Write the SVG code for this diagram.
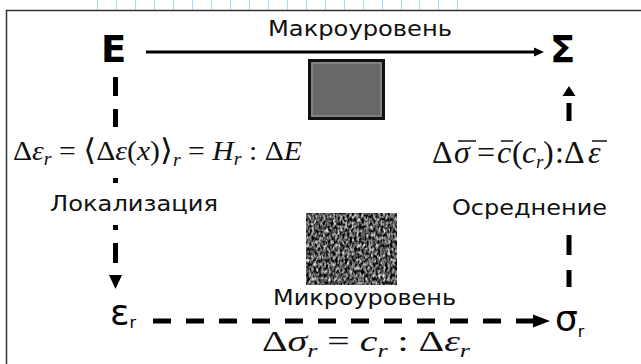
<svg xmlns="http://www.w3.org/2000/svg" width="641" height="364" viewBox="0 0 641 364">
<style>
.lbl{font-family:"DejaVu Sans","Liberation Sans",sans-serif;font-size:22px;fill:#111}
.node{font-family:"DejaVu Sans","Liberation Sans",sans-serif;fill:#000}
.math{font-family:"Liberation Serif","Times New Roman",serif;fill:#111}
.it{font-style:italic}
.dash{stroke:#000;stroke-width:5;fill:none}
.grid{stroke:#a9dcf2;stroke-width:1}
.bar{stroke:#111;stroke-width:1.5}
</style>
<defs>
<marker id="ah" viewBox="0 0 10 10" refX="0" refY="5" markerWidth="10" markerHeight="10" markerUnits="userSpaceOnUse" orient="auto">
<path d="M0,0.5 L10,5 L0,9.5 Z" fill="#000"/>
</marker>
<filter id="noise" x="0" y="0" width="100%" height="100%" color-interpolation-filters="sRGB">
<feTurbulence type="fractalNoise" baseFrequency="0.42 0.27" numOctaves="2" seed="11"/>
<feColorMatrix type="saturate" values="0"/>
<feComponentTransfer>
<feFuncR type="linear" slope="2.3" intercept="-0.8"/>
<feFuncG type="linear" slope="2.3" intercept="-0.8"/>
<feFuncB type="linear" slope="2.3" intercept="-0.8"/>
<feFuncA type="linear" slope="0" intercept="1"/>
</feComponentTransfer>
</filter>
</defs>
<rect width="641" height="364" fill="#fff"/>
<g id="grid">
<path class="grid" d="M97.5 0V10M116.5 0V10M135.5 0V10M154.5 0V10M173.5 0V10M192.5 0V10M211.5 0V10M230.5 0V10M249.5 0V10M268.5 0V10M287.5 0V10M306.5 0V10M325.5 0V10M344.5 0V10M363.5 0V10M382.5 0V10M401.5 0V10M419.5 0V10M438.5 0V10M457.5 0V10"/>
</g>
<path d="M6.5 364V10.5H641" fill="none" stroke="#333" stroke-width="1.5"/>

<g id="connectors">
<line x1="146" y1="52" x2="534" y2="52" stroke="#000" stroke-width="3" marker-end="url(#ah)"/>
<path class="dash" d="M115.5 77V96M115.5 109V127M115.5 178V183M115.5 225V230M115.5 243V263"/>
<path d="M109 275H122L115.5 289Z" fill="#000"/>
<path class="dash" d="M569 103V121M569 235V255M569 270V287"/>
<path d="M562.5 96H575.5L569 86Z" fill="#000"/>
<line class="dash" x1="153" y1="321" x2="535" y2="321" stroke-dasharray="18 15"/>
<path d="M533 314.5L550 321L533 327.5Z" fill="#000"/>
</g>

<g id="node-E"><text class="node" x="101" y="62" font-size="37" font-weight="bold">E</text></g>
<g id="node-Sigma"><text class="node" x="550" y="62" font-size="37" font-weight="bold">Σ</text></g>
<g id="node-eps"><text class="node" x="110" y="325" font-size="36">ε<tspan font-size="16" dy="3">r</tspan></text></g>
<g id="node-sigma"><text class="node" x="555" y="331" font-size="36">σ<tspan font-size="16" dy="6">r</tspan></text></g>

<g id="macro">
<text class="lbl" x="268" y="36" textLength="184" lengthAdjust="spacingAndGlyphs">Макроуровень</text>
<rect x="309.5" y="60.5" width="74" height="58" fill="#686868" stroke="#111" stroke-width="3"/>
<rect x="312" y="63" width="69" height="53" fill="none" stroke="#9a9a9a" stroke-width="1"/>
</g>
<g id="micro">
<rect x="306" y="213" width="91" height="72" filter="url(#noise)"/>
<text class="lbl" x="273" y="305" textLength="183" lengthAdjust="spacingAndGlyphs">Микроуровень</text>
</g>

<g id="localization">
<text class="math" x="13" y="160" font-size="27" textLength="289" lengthAdjust="spacingAndGlyphs">Δ<tspan class="it">ε</tspan><tspan class="it" font-size="18" dy="5">r</tspan><tspan dy="-5"> = </tspan><tspan font-family="DejaVu Serif" font-size="30">⟨</tspan>Δ<tspan class="it">ε</tspan>(<tspan class="it">x</tspan>)<tspan font-family="DejaVu Serif" font-size="30">⟩</tspan><tspan class="it" font-size="18" dy="6">r</tspan><tspan dy="-6"> = </tspan><tspan class="it">H</tspan><tspan class="it" font-size="18" dy="5">r</tspan><tspan dy="-5"> : Δ</tspan><tspan class="it">E</tspan></text>
<text class="lbl" x="50" y="211" textLength="168" lengthAdjust="spacingAndGlyphs">Локализация</text>
</g>
<g id="averaging">
<text class="math" y="163" font-size="32"><tspan x="432">Δ</tspan><tspan class="it" x="454">σ</tspan><tspan x="477">=</tspan><tspan class="it" x="497">c</tspan><tspan x="512">(</tspan><tspan class="it" x="522">c</tspan><tspan class="it" font-size="19" x="536" dy="5">r</tspan><tspan x="543" dy="-5">)</tspan><tspan x="555">:</tspan><tspan x="564">Δ</tspan><tspan class="it" x="588">ε</tspan></text>
<path class="bar" d="M458 141H476M501 141H513M592 141H607"/>
<text class="lbl" x="452" y="215" textLength="155" lengthAdjust="spacingAndGlyphs">Осреднение</text>
</g>
<g id="micro-law">
<text class="math" x="262" y="351" font-size="29" textLength="208" lengthAdjust="spacingAndGlyphs">Δ<tspan class="it">σ</tspan><tspan class="it" font-size="19" dy="6">r</tspan><tspan dy="-6"> = </tspan><tspan class="it">c</tspan><tspan class="it" font-size="19" dy="6">r</tspan><tspan dy="-6"> : Δ</tspan><tspan class="it">ε</tspan><tspan class="it" font-size="19" dy="6">r</tspan></text>
</g>
</svg>
